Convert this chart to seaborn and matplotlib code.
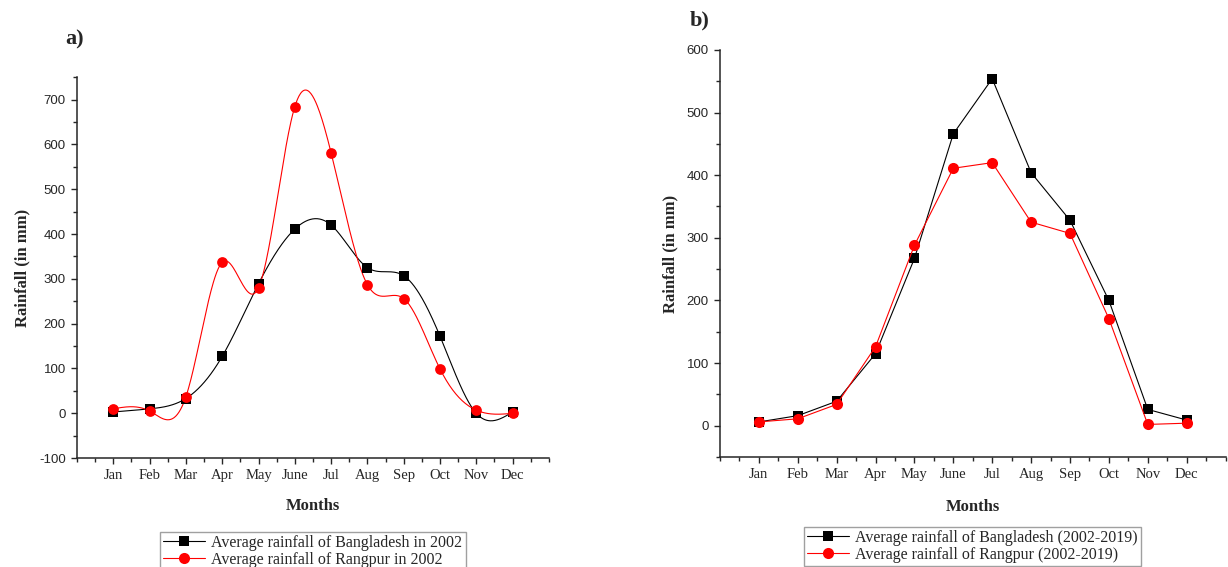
import numpy as np
import pandas as pd
import seaborn as sns
import matplotlib.pyplot as plt
from matplotlib.lines import Line2D
from matplotlib.ticker import MultipleLocator

# monthly rainfall values (mm)
months = ["Jan", "Feb", "Mar", "Apr", "May", "June", "Jul", "Aug", "Sep", "Oct", "Nov", "Dec"]
bd_2002 = [3, 10, 33, 127, 289, 411, 420, 325, 307, 172, 0, 3]
rp_2002 = [10, 5, 37, 337, 280, 684, 581, 287, 256, 99, 7, 0]
bd_avg = [6, 16, 39, 115, 267, 466, 554, 404, 328, 200, 26, 9]
rp_avg = [6, 11, 34, 126, 288, 411, 420, 325, 307, 171, 2, 4]

month_num = np.arange(1, 13)


def smooth_curve(x, y, num=500):
    # natural cubic spline through the points (Origin style "spline" connector)
    x = np.asarray(x, float)
    y = np.asarray(y, float)
    n = len(x)
    h = np.diff(x)
    A = np.zeros((n, n))
    r = np.zeros(n)
    A[0, 0] = A[-1, -1] = 1
    for i in range(1, n - 1):
        A[i, i - 1] = h[i - 1]
        A[i, i] = 2 * (h[i - 1] + h[i])
        A[i, i + 1] = h[i]
        r[i] = 3 * ((y[i + 1] - y[i]) / h[i] - (y[i] - y[i - 1]) / h[i - 1])
    c = np.linalg.solve(A, r)
    b = (y[1:] - y[:-1]) / h - h * (2 * c[:-1] + c[1:]) / 3
    d = (c[1:] - c[:-1]) / (3 * h)
    xs = np.linspace(x[0], x[-1], num)
    idx = np.clip(np.searchsorted(x, xs) - 1, 0, n - 2)
    dx = xs - x[idx]
    ys = y[idx] + b[idx] * dx + c[idx] * dx ** 2 + d[idx] * dx ** 3
    return xs, ys


sns.set_style("ticks")
plt.rcParams["font.family"] = ["Liberation Serif", "DejaVu Serif"]
plt.rcParams["axes.unicode_minus"] = False

fig = plt.figure(figsize=(12.28, 5.67), dpi=100)
ax_a = fig.add_axes([0.0627, 0.192, 0.3843, 0.672])
ax_b = fig.add_axes([0.5863, 0.194, 0.4117, 0.718])

black = "#000000"
red = "#ff0000"

# ---- panel a: 2002, spline connected
df_a = pd.DataFrame({"month": month_num, "Bangladesh": bd_2002, "Rangpur": rp_2002})
xs, ys = smooth_curve(df_a["month"], df_a["Bangladesh"])
ax_a.plot(xs, ys, color=black, lw=0.8)
xs, ys = smooth_curve(df_a["month"], df_a["Rangpur"])
ax_a.plot(xs, ys, color=red, lw=0.8)
sns.scatterplot(data=df_a, x="month", y="Bangladesh", ax=ax_a, marker="s", s=45,
                color=black, edgecolor=black, linewidth=0, zorder=3)
sns.scatterplot(data=df_a, x="month", y="Rangpur", ax=ax_a, marker="o", s=60,
                color=red, edgecolor=red, linewidth=0, zorder=4)
ax_a.set_ylim(-100, 750)
ax_a.yaxis.set_major_locator(MultipleLocator(100))
ax_a.yaxis.set_minor_locator(MultipleLocator(50))

# ---- panel b: 2002-2019, straight lines
df_b = pd.DataFrame({"month": month_num, "Bangladesh": bd_avg, "Rangpur": rp_avg})
sns.lineplot(data=df_b, x="month", y="Bangladesh", ax=ax_b, color=black, lw=0.8,
             marker="s", markersize=7, markeredgewidth=0, zorder=3)
sns.lineplot(data=df_b, x="month", y="Rangpur", ax=ax_b, color=red, lw=0.8,
             marker="o", markersize=8, markeredgewidth=0, zorder=4)
ax_b.set_ylim(-50, 600)
ax_b.yaxis.set_major_locator(MultipleLocator(100))
ax_b.yaxis.set_minor_locator(MultipleLocator(50))

labels_a = ["Average rainfall of Bangladesh in 2002", "Average rainfall of Rangpur in 2002"]
labels_b = ["Average rainfall of Bangladesh (2002-2019)", "Average rainfall of Rangpur (2002-2019)"]

for ax, tag, labels, legpos, xpad in [(ax_a, "a)", labels_a, (0.5, -0.172), 11),
                                      (ax_b, "b)", labels_b, (0.5, -0.152), 13)]:
    ax.set_xlim(0, 13)
    ax.set_xticks(month_num)
    ax.set_xticklabels(months, fontsize=10.5)
    ax.xaxis.set_minor_locator(MultipleLocator(0.5))
    for lab in ax.get_yticklabels():
        lab.set_fontfamily("Liberation Sans")
        lab.set_fontsize(9.5)
    ax.tick_params(which="major", direction="out", length=4, width=1, pad=4)
    ax.tick_params(which="minor", direction="out", length=3, width=1)
    for s in ["top", "right"]:
        ax.spines[s].set_visible(False)
    for s in ["left", "bottom"]:
        ax.spines[s].set_linewidth(1.1)
    ax.set_xlabel("Months", fontsize=12, fontweight="bold", labelpad=xpad)
    ax.set_ylabel("Rainfall (in mm)", fontsize=12, fontweight="bold", labelpad=6)
    handles = [
        Line2D([], [], color=black, lw=0.8, marker="s", markersize=7, markeredgewidth=0),
        Line2D([], [], color=red, lw=0.8, marker="o", markersize=8, markeredgewidth=0),
    ]
    leg = ax.legend(handles, labels, loc="upper center", bbox_to_anchor=legpos,
                    frameon=True, fancybox=False, fontsize=11.5, handlelength=2.6,
                    handletextpad=0.4, borderpad=0.2, labelspacing=0.05)
    leg.get_frame().set_edgecolor("#888888")
    leg.get_frame().set_linewidth(1)

fig.text(0.053, 0.93, "a)", fontsize=16, fontweight="bold", ha="left", va="center")
fig.text(0.562, 0.963, "b)", fontsize=16, fontweight="bold", ha="left", va="center")

fig.savefig("out.png", dpi=100)
